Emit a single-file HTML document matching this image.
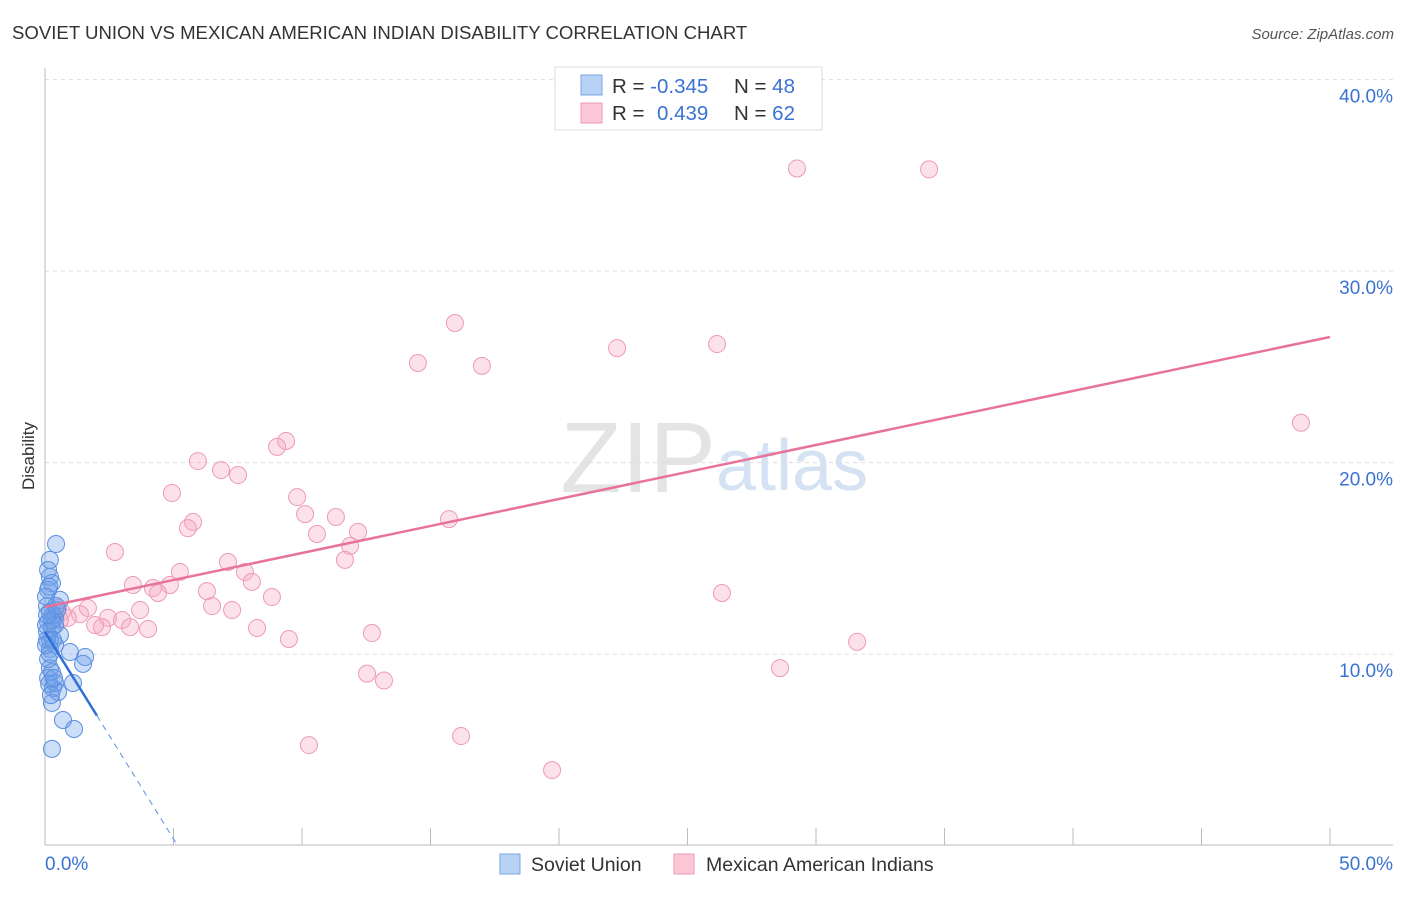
<!DOCTYPE html>
<html><head><meta charset="utf-8"><style>
body{margin:0;background:#fff;font-family:"Liberation Sans",sans-serif;}
svg text{font-family:"Liberation Sans",sans-serif;}
</style></head><body>
<svg id="chart" width="1406" height="892" xmlns="http://www.w3.org/2000/svg">
<text x="12" y="39" font-size="18.6" fill="#333">SOVIET UNION VS MEXICAN AMERICAN INDIAN DISABILITY CORRELATION CHART</text>
<text x="1394" y="39" font-size="15" fill="#555" font-style="italic" text-anchor="end">Source: ZipAtlas.com</text>
<text x="716" y="492" font-size="100" fill="#e4e4e4" text-anchor="end" font-family="Liberation Serif">ZIP</text>
<text x="716" y="490" font-size="72" fill="#d4e2f4">atlas</text>
<text transform="translate(34,456) rotate(-90)" font-size="17" fill="#333" text-anchor="middle">Disability</text>
<g id="grid"></g><g id="axes"></g><g id="pts"></g><g id="trend"></g>
<g>
<rect x="555" y="67" width="267" height="63" fill="#fff" stroke="#ddd"/>
<rect x="581" y="75" width="21" height="20" fill="#b8d2f5" stroke="#7aa6e6"/>
<rect x="581" y="103" width="21" height="20" fill="#fcc8d8" stroke="#ee9ab5"/>
<text x="612" y="93" font-size="20.5" fill="#333">R = <tspan fill="#3a72d4">-0.345</tspan></text>
<text x="734" y="93" font-size="20.5" fill="#333">N = <tspan fill="#3a72d4">48</tspan></text>
<text x="612" y="120" font-size="20.5" fill="#333">R = <tspan fill="#3a72d4" x="657">0.439</tspan></text>
<text x="734" y="120" font-size="20.5" fill="#333">N = <tspan fill="#3a72d4">62</tspan></text>
</g>
<g>
<rect x="500" y="854" width="20" height="20" fill="#b8d2f5" stroke="#7aa6e6"/>
<text x="531" y="871" font-size="19.5" fill="#333">Soviet Union</text>
<rect x="674" y="854" width="20" height="20" fill="#fcc8d8" stroke="#ee9ab5"/>
<text x="706" y="871" font-size="19.5" fill="#333">Mexican American Indians</text>
</g>
</svg>
<script>
const blueX=[0.43,0.19,0.19,0.27,0.12,0.58,0.08,0.19,0.39,0.12,0.27,0.58,0.19,0.39,0.97,1.56,1.48,0.19,0.27,0.12,0.39,0.31,1.09,0.51,0.27,0.70,1.13,0.27,0.04,0.08,0.19,0.12,0.31,0.47,0.04,0.16,0.27,0.39,0.08,0.16,0.23,0.43,0.12,0.19,0.35,0.08,0.31,0.04];
const blueY=[15.75,14.92,14.03,13.71,13.35,12.83,12.51,12.20,11.89,11.68,11.36,11.00,10.74,10.48,10.11,9.85,9.49,9.27,9.06,8.75,8.49,8.23,8.49,8.02,7.45,6.56,6.09,5.05,11.52,11.15,10.27,9.74,12.04,12.30,13.00,13.52,11.78,11.52,10.74,8.44,7.86,12.51,14.39,10.01,8.75,12.04,10.74,10.48];
const pinkX=[29.26,34.40,15.95,22.26,26.15,14.51,17.00,48.87,9.38,9.03,5.95,6.85,7.51,4.94,9.81,10.12,11.32,15.72,5.76,5.56,10.58,12.18,11.87,2.72,11.67,7.12,5.25,7.78,8.05,3.42,4.20,4.86,4.40,6.30,26.34,8.83,6.50,3.70,7.28,1.67,1.36,0.66,0.51,2.45,0.89,3.00,1.95,2.22,3.31,4.01,8.25,12.72,9.49,31.60,28.60,12.53,13.19,10.27,16.19,19.73,0.58,0.39];
const pinkY=[35.36,35.31,27.29,25.98,26.19,25.20,25.05,22.08,21.13,20.82,20.08,19.61,19.35,18.41,18.20,17.31,17.16,17.05,16.90,16.58,16.27,16.38,15.65,15.33,14.92,14.81,14.29,14.29,13.77,13.61,13.45,13.61,13.19,13.29,13.19,12.98,12.51,12.30,12.30,12.41,12.09,12.20,12.41,11.89,11.89,11.78,11.52,11.41,11.41,11.31,11.36,11.10,10.79,10.64,9.27,8.98,8.62,5.25,5.72,3.94,11.78,12.04];
const yTicks=[10,20,30,40];
const yTickLabels=["10.0%","20.0%","30.0%","40.0%"];
const pinkTrend=[12.46,26.56];
const blueTrend={b:11.15,m:-2.16,solidEnd:2.02};
const X=v=>45+v*25.7, Y=v=>845.6-v*19.15;
const NS="http://www.w3.org/2000/svg";
function mk(p,t,a){const e=document.createElementNS(NS,t);for(const k in a)e.setAttribute(k,a[k]);document.getElementById(p).appendChild(e);return e;}
yTicks.forEach((t,i)=>{
 const l=mk('grid','line',{x1:45,x2:1393,y1:Y(t),y2:Y(t),stroke:'#ddd','stroke-dasharray':'4 4'});
 
 
 const tx=mk('grid','text',{x:1393,y:Y(t)+23,'font-size':19,fill:'#3a72d4','text-anchor':'end'});
 tx.textContent=yTickLabels[i];
 
 
});
mk('axes','line',{x1:45,x2:45,y1:68,y2:845,stroke:'#bbb'});
mk('axes','line',{x1:45,x2:1393,y1:845,y2:845,stroke:'#bbb'});
for(let i=1;i<=10;i++){const t=mk('axes','line',{x1:X(i*5),x2:X(i*5),y1:828,y2:845,stroke:'#bbb'});}
const xl=mk('axes','text',{x:45,y:870,'font-size':19,fill:'#3a72d4'});xl.textContent='0.0%';


const xr=mk('axes','text',{x:1393,y:870,'font-size':19,fill:'#3a72d4','text-anchor':'end'});xr.textContent='50.0%';


pinkX.forEach((v,i)=>{const c=mk('pts','circle',{cx:X(v),cy:Y(pinkY[i]),r:8.5,fill:'rgba(245,170,195,0.35)',stroke:'#ee9ab5','stroke-width':1});
 
 });
blueX.forEach((v,i)=>{const c=mk('pts','circle',{cx:X(v),cy:Y(blueY[i]),r:8.5,fill:'rgba(110,160,235,0.35)',stroke:'#5b8fdf','stroke-width':1});
 
 });
const pt=mk('trend','line',{x1:X(0),y1:Y(pinkTrend[0]),x2:X(50),y2:Y(pinkTrend[1]),stroke:'#e8739a','stroke-width':2.5});


const e=blueTrend.solidEnd, z=-blueTrend.b/blueTrend.m;
const bt=mk('trend','line',{x1:X(0),y1:Y(blueTrend.b),x2:X(e),y2:Y(blueTrend.b+blueTrend.m*e),stroke:'#2f6fd6','stroke-width':2.5});


const bd=mk('trend','line',{x1:X(e),y1:Y(blueTrend.b+blueTrend.m*e),x2:X(z),y2:Y(0),stroke:'#5b8fdf','stroke-width':1,'stroke-dasharray':'6 5'});


</script>
</body></html>
